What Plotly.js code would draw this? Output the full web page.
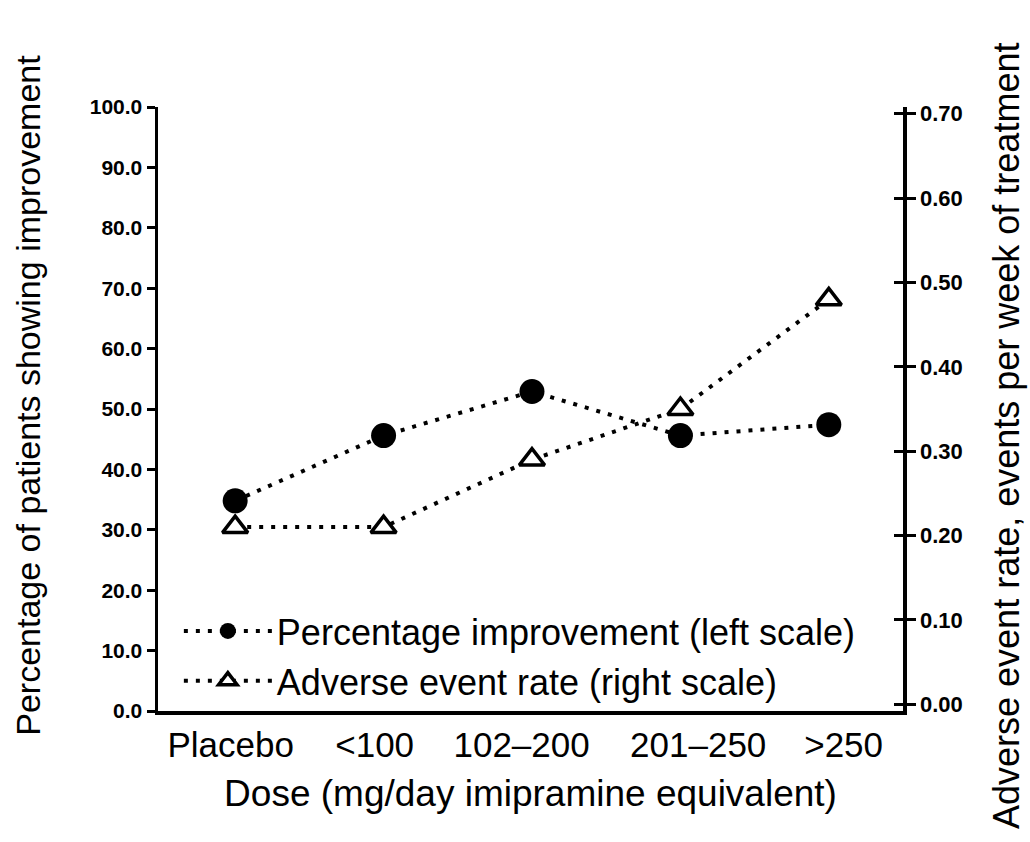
<!DOCTYPE html>
<html>
<head>
<meta charset="utf-8">
<script src="https://cdn.plot.ly/plotly-3.0.1.min.js"></script>
<style>
html,body{margin:0;padding:0;background:#fff;}
#chart{width:1030px;height:842px;}
</style>
</head>
<body>
<div id="chart"></div>
<script>
// Data
const doseCategories = ["Placebo", "<100", "102\u2013200", "201\u2013250", ">250"];
const categoryIndex = [0, 1, 2, 3, 4];
const pctImprovement = [34.8, 45.6, 52.9, 45.6, 47.4];
const adverseRate = [0.21, 0.21, 0.29, 0.35, 0.48];
const leftTicks = [0, 10, 20, 30, 40, 50, 60, 70, 80, 90, 100];
const rightTicks = [0, 0.1, 0.2, 0.3, 0.4, 0.5, 0.6, 0.7];
const tickLabelPos = [-0.03, 0.94, 1.93, 3.12, 4.10];

const leftTitle = "Percentage of patients showing improvement";
const rightTitle = "Adverse event rate, events per week of treatment";
const xTitle = "Dose (mg/day imipramine equivalent)";

const FONT = "Liberation Sans, Arial, Helvetica, sans-serif";

const traces = [
  {
    x: categoryIndex, y: pctImprovement, type: "scatter", mode: "lines+markers",
    name: "Percentage improvement (left scale)", yaxis: "y",
    line: {color: "#000", width: 4, dash: "4px,8px"},
    marker: {symbol: "circle", size: 25, color: "#000"}
  },
  {
    x: categoryIndex, y: adverseRate, type: "scatter", mode: "lines+markers",
    name: "Adverse event rate (right scale)", yaxis: "y2",
    line: {color: "#000", width: 4, dash: "4px,8px"},
    marker: {symbol: "triangle-up", size: 22, color: "#fff", line: {color: "#000", width: 3.5}}
  },
  {
    x: categoryIndex, y: adverseRate, type: "scatter", mode: "none",
    yaxis: "y3", showlegend: false, hoverinfo: "skip"
  }
];

const layout = {
  width: 1030, height: 842,
  margin: {l: 158, r: 127, t: 107, b: 131},
  paper_bgcolor: "#fff", plot_bgcolor: "#fff",
  font: {family: FONT, color: "#000"},
  showlegend: true,
  legend: {
    x: 0.028, y: 0.0, xanchor: "left", yanchor: "bottom",
    bgcolor: "rgba(0,0,0,0)", borderwidth: 0,
    font: {family: FONT, size: 36, color: "#000"},
    itemwidth: 88, itemsizing: "trace", tracegroupgap: 0
  },
  xaxis: {
    range: [-0.52, 4.5], showgrid: false, zeroline: false,
    showline: true, linecolor: "#000", linewidth: 4,
    tickmode: "array", tickvals: tickLabelPos, ticktext: doseCategories,
    ticks: "", tickfont: {family: FONT, size: 35},
    title: {text: xTitle, font: {family: FONT, size: 37}, standoff: 18}
  },
  yaxis: {
    range: [0, 100], showgrid: false, zeroline: false,
    showline: true, linecolor: "#000", linewidth: 3.5,
    tickmode: "array", tickvals: leftTicks, ticktext: leftTicks.map(v => v.toFixed(1)),
    ticks: "outside", ticklen: 8, tickwidth: 3, tickcolor: "#000",
    tickfont: {family: FONT, size: 21, weight: "bold"}
  },
  yaxis2: {
    overlaying: "y", side: "right", anchor: "x",
    range: [-0.008, 0.708], showgrid: false, zeroline: false,
    showline: true, linecolor: "#000", linewidth: 3.5,
    tickmode: "array", tickvals: rightTicks, ticktext: rightTicks.map(v => v.toFixed(2)),
    ticks: "outside", ticklen: 9, tickwidth: 3, tickcolor: "#000",
    tickfont: {family: FONT, size: 22, weight: "bold"}
  },
  yaxis3: {
    overlaying: "y", side: "right", anchor: "x",
    range: [-0.008, 0.708], showgrid: false, zeroline: false, showline: false,
    tickmode: "array", tickvals: rightTicks, showticklabels: false,
    ticks: "inside", ticklen: 9, tickwidth: 3, tickcolor: "#000"
  },
  annotations: [
    {text: leftTitle, xref: "paper", yref: "paper", x: -0.175, y: 0.523,
     xanchor: "center", yanchor: "middle", textangle: -90, showarrow: false,
     font: {family: FONT, size: 34, color: "#000"}},
    {text: rightTitle, xref: "paper", yref: "paper", x: 1.138, y: 0.455,
     xanchor: "center", yanchor: "middle", textangle: -90, showarrow: false,
     font: {family: FONT, size: 36, color: "#000"}}
  ]
};

Plotly.newPlot("chart", traces, layout, {displayModeBar: false, staticPlot: true});
</script>
</body>
</html>
